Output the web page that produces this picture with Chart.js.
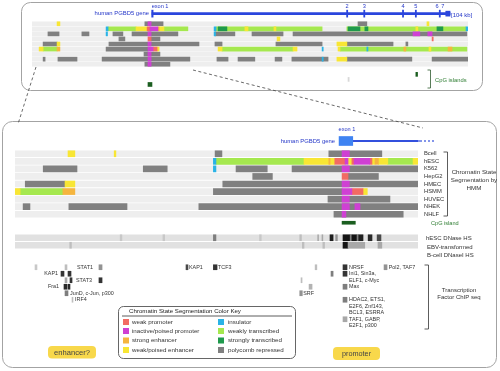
<!DOCTYPE html>
<html>
<head>
<meta charset="utf-8">
<title>PGBD5 chromatin state</title>
<script src="https://cdn.jsdelivr.net/npm/chart.js@4.4.1/dist/chart.umd.min.js"></script>
<style>
  html, body { margin: 0; padding: 0; background: #fff; }
  #wrap { position: relative; width: 500px; height: 371px; overflow: hidden; }
  #wrap canvas { position: absolute; }
</style>
</head>
<body>
<div id="wrap">
  <canvas id="frame" width="500" height="371" style="left:0;top:0"></canvas>
  <canvas id="overview" width="436" height="86" style="left:32px;top:1px"></canvas>
  <canvas id="zoomGene" width="403" height="18" style="left:15px;top:132px"></canvas>
  <canvas id="zoomSeg" width="430" height="68" style="left:15px;top:150px"></canvas>
  <canvas id="zoomTracks" width="403" height="30" style="left:15px;top:219px"></canvas>
  <canvas id="zoomTF" width="403" height="65" style="left:15px;top:264px"></canvas>
</div>
<script>
const FONT = "'Liberation Sans', Arial, sans-serif";

// cell lines, same order in both panels (row index 0..8)
const cellLines = ['Bcell', 'hESC', 'K562', 'HepG2', 'HMEC', 'HSMM', 'HUVEC', 'NHEK', 'NHLF'];

// chromatin states: label, colour, draw order (lower = on top)
const stateKey = [
  ['weak promoter', '#f26b63', 2],
  ['inactive/poised promoter', '#cf40d3', 1],
  ['strong enhancer', '#f5b53e', 3],
  ['weak/poised enhancer', '#f8e634', 4],
  ['insulator', '#29b3e6', 3],
  ['weakly transcribed', '#a5e84f', 6],
  ['strongly transcribed', '#1f9a4c', 5],
  ['polycomb repressed', '#808080', 6]
];

// ---------- overview panel (kb, window 0-153) ----------
const ovTracks = ['top', 'exon labels', 'PGBD5', 'gap 1', ...cellLines, 'gap 2', 'CpG a', 'CpG b', 'CpG c'];
const ovRange = [0, 153];
const ovGene = [42.1, 146.7];
const ovExons = [[42.0, 42.5], [110.4, 110.8], [116.4, 116.8], [130.0, 130.4], [134.5, 134.9], [142.9, 143.3]];
const ovLastExon = [145.2, 146.7];
const ovExonLabels = [['exon 1', 42.0], ['2', 110.6], ['3', 116.6], ['4', 130.2], ['5', 134.7], ['6', 142.1], ['7', 144.2]];
const ovCpG = [['CpG c', 40.7, 42.1], ['CpG a', 134.7, 135.3]];
const ovCpGFaint = [['CpG b', 110.9, 111.3]];

// segments: [row, start kb, end kb]
const ovWeakProm = [[1, 40.4, 41.4], [3, 40.7, 41.8], [5, 42.5, 43.9], [3, 140.4, 140.8]];
const ovPoisedProm = [[0, 40.7, 41.8], [1, 41.4, 44.2], [2, 40.7, 41.8], [2, 133.7, 136.1], [2, 138.9, 140.4],
  [4, 40.7, 41.8], [5, 40.7, 42.5], [6, 40.7, 41.8], [7, 40.7, 41.8], [8, 40.7, 41.8]];
const ovStrongEnh = [[5, 8.8, 9.8], [5, 130.5, 131.2], [5, 146.0, 147.4], [1, 44.2, 44.6]];
const ovWeakEnh = [[0, 8.8, 9.8], [0, 138.6, 139.3], [1, 36.5, 40.4], [1, 44.6, 46.3], [1, 74.7, 75.8], [1, 84.9, 85.6],
  [1, 134.7, 135.4], [3, 86.0, 87.0], [4, 8.8, 9.8], [4, 107.0, 110.5], [5, 2.5, 3.9], [5, 43.9, 44.6],
  [5, 65.3, 66.7], [5, 91.6, 93.0], [5, 107.4, 108.1], [5, 139.3, 140.0], [7, 107.0, 110.5]];
const ovInsulator = [[1, 26.0, 26.7], [2, 26.0, 26.5], [1, 63.9, 64.6], [2, 63.9, 64.4], [1, 152.3, 153],
  [5, 117.5, 117.9], [5, 101.8, 102.2], [7, 101.8, 102.2]];
const ovWeakTx = [[1, 26.7, 36.5], [1, 46.3, 54.7], [1, 64.6, 101.8], [1, 110.5, 152.3], [5, 3.9, 8.8],
  [5, 66.7, 91.6], [5, 108.1, 152.6]];
const ovStrongTx = [[1, 65.3, 68.4], [1, 110.9, 115.1], [1, 116.8, 117.9], [1, 142.1, 144.2]];
const ovPolycomb = [[0, 39.6, 46.0], [0, 114.4, 117.5],
  [2, 5.6, 9.5], [2, 17.5, 20.0], [2, 28.4, 31.9], [2, 35.1, 51.2], [2, 64.2, 71.2], [2, 77.2, 88.1], [2, 91.6, 152.6],
  [3, 30.5, 32.6], [3, 41.8, 44.9],
  [4, 3.9, 8.8], [4, 27.0, 58.6], [4, 64.2, 66.7], [4, 85.6, 101.8], [4, 110.5, 126.7], [4, 131.2, 131.9],
  [5, 26.0, 40.7],
  [6, 39.3, 44.9],
  [7, 3.9, 4.6], [7, 9.1, 15.8], [7, 24.6, 55.4], [7, 64.9, 68.8], [7, 72.3, 78.2], [7, 85.3, 87.7],
  [7, 91.2, 103.9], [7, 110.5, 133.3], [7, 140.4, 153],
  [8, 39.6, 48.4]];

// ---------- zoomed panel (kb, window 2.8-49.93) ----------
const zmRange = [2.8, 49.93];
const zmExon = [40.7, 42.3];
const zmGeneLine = [42.3, 49.93];
const zmTracks = ['CpG island', 'gap', 'hESC DNase HS', 'EBV-transformed B-cell DNaseI HS'];
const zmCpG = [['CpG island', 41.05, 42.6]];

const zmWeakProm = [[1, 40.2, 41.4], [1, 42.2, 42.45], [1, 44.3, 44.55], [3, 41.05, 41.75], [5, 42.2, 43.5]];
const zmPoisedProm = [[0, 41.05, 41.9], [1, 41.4, 41.75], [1, 42.45, 44.3], [2, 41.05, 41.9], [4, 41.05, 41.9],
  [5, 41.05, 42.2], [6, 41.05, 41.9], [7, 41.05, 41.9], [7, 42.55, 43.15], [8, 41.05, 41.5]];
const zmStrongEnh = [[1, 39.5, 39.65], [1, 44.9, 45.3], [5, 8.4, 9.8]];
const zmWeakEnh = [[0, 9.0, 9.8], [0, 14.4, 14.6], [1, 36.6, 40.2], [1, 41.75, 42.2], [1, 44.55, 44.9], [1, 45.3, 46.4],
  [1, 49.35, 49.93], [4, 8.65, 9.8], [5, 2.8, 3.4], [5, 43.5, 44.0]];
const zmInsulator = [[1, 26.0, 26.3], [2, 26.0, 26.3]];
const zmWeakTx = [[1, 26.3, 36.6], [1, 46.4, 49.35], [5, 3.4, 8.4]];
const zmStrongTx = [];
const zmPolycomb = [[0, 26.2, 27.0], [0, 39.5, 45.7],
  [2, 6.1, 10.05], [2, 17.8, 20.6], [2, 28.65, 32.3], [2, 35.2, 49.93],
  [3, 30.6, 32.9], [3, 41.75, 45.3],
  [4, 4.0, 8.65], [4, 27.1, 49.93],
  [5, 26.0, 41.05],
  [6, 39.4, 46.65],
  [7, 3.75, 4.55], [7, 9.1, 15.9], [7, 24.3, 49.93],
  [8, 40.1, 48.2]];

// DNase HS signal: [start, end, strength 0-1]
const dnaseHesc = [[15.1, 15.3, 0.15], [20.1, 20.3, 0.15], [26.0, 26.3, 0.5], [31.4, 31.6, 0.15], [36.1, 36.3, 0.2],
  [38.2, 38.3, 0.3], [38.7, 38.8, 0.3], [39.64, 40.0, 0.95], [40.3, 40.5, 0.4], [41.16, 42.0, 1.0], [42.0, 42.2, 0.5],
  [42.2, 42.8, 1.0], [42.8, 43.0, 0.5], [43.0, 43.5, 0.95], [44.1, 44.55, 0.9], [45.15, 45.6, 0.75]];
const dnaseEbv = [[9.2, 9.4, 0.2], [36.4, 36.6, 0.2], [38.8, 39.0, 0.2], [41.16, 41.75, 1.0], [41.75, 43.7, 0.3],
  [45.25, 45.7, 0.3]];

// TF ChIP-seq peaks: [start, end, text line, strength]
const tfLines = ['L1', 'L2', 'L3', 'L4', 'L5', 'L6', 'L7', 'L8', 'L9', 'L10'];
const tfPeaks = [[5.14, 5.37, 0, 0.15], [8.65, 8.88, 0, 0.2], [12.62, 12.98, 0, 0.4],
  [8.18, 8.53, 1, 0.85], [9.0, 9.35, 1, 0.85],
  [8.65, 8.88, 2, 0.3], [9.23, 9.47, 2, 0.85], [12.62, 12.98, 2, 0.85],
  [8.53, 8.88, 3, 0.9], [9.0, 9.23, 3, 0.9],
  [8.65, 9.0, 4, 0.5], [9.47, 9.58, 5, 0.2],
  [22.8, 23.03, 0, 0.75], [26.0, 26.43, 0, 0.85],
  [37.9, 38.1, 0, 0.2], [39.76, 40.0, 1, 0.5], [36.25, 36.37, 2, 0.2], [37.19, 37.54, 3, 0.25], [36.1, 36.4, 4, 0.4],
  [41.16, 41.63, 0, 0.85], [41.16, 41.63, 1, 0.85], [41.16, 41.63, 3, 0.5], [41.16, 41.63, 5, 0.5],
  [41.16, 41.63, 8, 0.3], [45.96, 46.31, 0, 0.4]];
// TF names: [text, kb, line, align]
const tfLabels = [['STAT1', 10.05, 0, 'left'], ['KAP1', 7.83, 1, 'right'], ['STAT3', 9.93, 2, 'left'],
  ['Fra1', 7.95, 3, 'right'], ['JunD, c-Jun, p300', 9.23, 4, 'left'], ['IRF4', 9.82, 5, 'left'],
  ['KAP1', 23.15, 0, 'left'], ['TCF3', 26.55, 0, 'left'], ['SRF', 36.5, 4, 'left'],
  ['NRSF', 41.86, 0, 'left'], ['Ini1, Sin3a,', 41.86, 1, 'left'], ['ELF1, c-Myc', 41.86, 2, 'left'],
  ['Max', 41.86, 3, 'left'], ['HDAC2, ETS1,', 41.86, 5, 'left'], ['E2F6, Znf143,', 41.86, 6, 'left'],
  ['BCL3, ESRRA', 41.86, 7, 'left'], ['TAF1, GABP,', 41.86, 8, 'left'], ['E2F1, p300', 41.86, 9, 'left'],
  ['Pol2, TAF7', 46.5, 0, 'left']];

// ---------- helpers ----------
function segs(list) {
  return list.map(s => ({ y: typeof s[0] === 'number' ? cellLines[s[0]] : s[0], x: [s[1], s[2]] }));
}
function stateSets(lists, thick) {
  return lists.map((list, i) => ({
    data: segs(list),
    backgroundColor: stateKey[i][1],
    barThickness: thick,
    order: stateKey[i][2]
  }));
}
function rowBackgrounds(range, thick) {
  return {
    data: cellLines.map(name => ({ y: name, x: [range[0], range[1]] })),
    backgroundColor: '#eeeeee',
    barThickness: thick,
    order: 10
  };
}
function grayShade(s) {
  const g = Math.round(232 - 212 * s);
  return `rgb(${g},${g},${g})`;
}
function shadeColor(ctx) {
  return ctx.raw && ctx.raw.s !== undefined ? grayShade(ctx.raw.s) : '#999';
}
function baseOptions(range, yScale) {
  return {
    responsive: false,
    animation: false,
    indexAxis: 'y',
    layout: { padding: 0 },
    plugins: { legend: { display: false }, tooltip: { enabled: false } },
    datasets: { bar: { grouped: false, borderWidth: 0, borderSkipped: false } },
    scales: {
      x: { type: 'linear', min: range[0], max: range[1], display: false },
      y: Object.assign({ type: 'category', display: false }, yScale)
    }
  };
}
function text(c, str, x, y, size, color, align, squeeze) {
  c.save();
  c.font = size + 'px ' + FONT;
  c.fillStyle = color;
  c.textAlign = align || 'left';
  c.textBaseline = 'middle';
  c.translate(x, y);
  c.scale(squeeze || 1, 1);
  c.fillText(str, 0, 0);
  c.restore();
}
function rounded(c, x, y, w, h, r) {
  c.beginPath();
  c.moveTo(x + r, y);
  c.arcTo(x + w, y, x + w, y + h, r);
  c.arcTo(x + w, y + h, x, y + h, r);
  c.arcTo(x, y + h, x, y, r);
  c.arcTo(x, y, x + w, y, r);
  c.closePath();
}
function line(c, x1, y1, x2, y2) {
  c.beginPath(); c.moveTo(x1, y1); c.lineTo(x2, y2); c.stroke();
}
function bracket(c, x, y1, y2, tick) {
  c.beginPath();
  c.moveTo(x - tick, y1); c.lineTo(x, y1); c.lineTo(x, y2); c.lineTo(x - tick, y2);
  c.stroke();
}

// ---------- static frame: panels, key, annotations ----------
const blue = '#2436c8';
const green = '#2e7d32';
const framePlugin = {
  id: 'frame',
  afterDraw(chart) {
    const c = chart.ctx;
    c.save();
    c.strokeStyle = '#a3a3a3';
    c.lineWidth = 1;
    rounded(c, 21.5, 2.5, 461, 88, 9); c.stroke();
    rounded(c, 2.5, 121.5, 494, 246, 10); c.stroke();

    c.setLineDash([3, 2.5]);
    c.strokeStyle = '#444';
    c.lineWidth = 0.8;
    line(c, 36, 67, 18, 124);
    line(c, 193, 70, 423, 128);
    c.setLineDash([]);

    // overview annotations
    text(c, '[104 kb]', 451, 15, 6, blue);
    c.strokeStyle = '#2e5a2e'; c.lineWidth = 0.8;
    bracket(c, 430.5, 70, 88, 3);
    text(c, 'CpG islands', 435, 80, 5.8, green);

    // zoom gene
    text(c, 'exon 1', 347, 129, 5.6, blue, 'center');
    text(c, 'human PGBD5 gene', 335, 141, 5.9, blue, 'right');
    c.strokeStyle = '#3350dd'; c.lineWidth = 1.2;
    line(c, 418, 141, 422, 141);
    c.setLineDash([2, 2]);
    line(c, 424, 141, 434, 141);
    c.setLineDash([]);

    // right-hand labels
    c.strokeStyle = '#333'; c.lineWidth = 0.8;
    bracket(c, 447.5, 152, 216, 4);
    text(c, 'Chromatin State', 474, 172, 6.2, '#333', 'center');
    text(c, 'Segmentation by', 474, 180, 6.2, '#333', 'center');
    text(c, 'HMM', 474, 188, 6.2, '#333', 'center');
    text(c, 'CpG island', 431, 223, 5.6, green);
    text(c, 'hESC DNase HS', 426, 238, 6, '#333');
    text(c, 'EBV-transformed', 427, 247, 6, '#333');
    text(c, 'B-cell DNaseI HS', 427, 255, 6, '#333');
    bracket(c, 428.5, 265, 329, 4);
    text(c, 'Transcription', 459, 290, 6, '#333', 'center');
    text(c, 'Factor ChIP seq', 459, 297, 6, '#333', 'center');

    // colour key
    c.fillStyle = '#fff';
    c.strokeStyle = '#555'; c.lineWidth = 0.9;
    rounded(c, 118.5, 306.5, 177, 52, 5); c.fill(); c.stroke();
    text(c, 'Chromatin State Segmentation Color Key', 185, 311, 6.1, '#222', 'center');
    c.strokeStyle = '#333'; c.lineWidth = 0.8;
    line(c, 122, 316, 292, 316);
    const keyRows = [322, 331, 340.5, 350];
    stateKey.forEach(([name, color], i) => {
      const col = i < 4 ? 0 : 1;
      const x = col ? 218 : 123;
      const y = keyRows[i % 4];
      c.fillStyle = color;
      c.fillRect(x, y - 3, 6, 6);
      text(c, name, x + (col ? 10 : 9), y, 6.2, '#333');
    });

    // region tags
    c.fillStyle = '#f8d84b';
    rounded(c, 48, 346, 48, 12.5, 4); c.fill();
    rounded(c, 333, 347, 47, 13, 4); c.fill();
    text(c, 'enhancer?', 72, 352.5, 7.6, '#444', 'center');
    text(c, 'promoter', 356.5, 353.5, 7.3, '#444', 'center');
    c.restore();
  }
};

new Chart(document.getElementById('frame'), {
  type: 'bar',
  data: { labels: [], datasets: [] },
  options: {
    responsive: false, animation: false,
    plugins: { legend: { display: false }, tooltip: { enabled: false } },
    scales: { x: { display: false }, y: { display: false } }
  },
  plugins: [framePlugin]
});

// ---------- overview tracks ----------
const overviewLabels = {
  id: 'overviewLabels',
  afterDatasetsDraw(chart) {
    const { ctx, scales: { x, y } } = chart;
    const gy = y.getPixelForValue(ovTracks.indexOf('PGBD5'));
    ovExonLabels.forEach(([t, kb], i) => {
      text(ctx, t, x.getPixelForValue(kb), gy - 7, 5.6, blue, i === 0 ? 'left' : 'center');
    });
    text(ctx, 'human PGBD5 gene', x.getPixelForValue(ovGene[0]) - 3, gy, 5.9, blue, 'right');
  }
};

new Chart(document.getElementById('overview'), {
  type: 'bar',
  data: {
    labels: ovTracks,
    datasets: [
      rowBackgrounds(ovRange, 4),
      ...stateSets([ovWeakProm, ovPoisedProm, ovStrongEnh, ovWeakEnh, ovInsulator, ovWeakTx, ovStrongTx, ovPolycomb], 4),
      { data: [{ y: 'PGBD5', x: ovGene }], backgroundColor: '#2a45dd', barThickness: 2, order: 1 },
      { data: ovExons.map(e => ({ y: 'PGBD5', x: e })), backgroundColor: '#2a45dd', barThickness: 7, order: 1 },
      { data: [{ y: 'PGBD5', x: ovLastExon }], backgroundColor: '#2a45dd', barThickness: 5, order: 1 },
      { data: segs(ovCpG), backgroundColor: '#1b5e20', barThickness: 4, order: 1 },
      { data: segs(ovCpGFaint), backgroundColor: '#d8d8d8', barThickness: 4, order: 1 }
    ]
  },
  options: baseOptions(ovRange, {}),
  plugins: [overviewLabels]
});

// ---------- zoomed gene model ----------
new Chart(document.getElementById('zoomGene'), {
  type: 'bar',
  data: {
    labels: ['PGBD5'],
    datasets: [
      { data: [{ y: 'PGBD5', x: zmExon }], backgroundColor: '#3f83f2', barThickness: 9, order: 1 },
      { data: [{ y: 'PGBD5', x: zmGeneLine }], backgroundColor: '#3350dd', barThickness: 1.3, order: 2 }
    ]
  },
  options: baseOptions(zmRange, {})
});

// ---------- zoomed chromatin states ----------
new Chart(document.getElementById('zoomSeg'), {
  type: 'bar',
  data: {
    labels: cellLines,
    datasets: [
      rowBackgrounds(zmRange, 6),
      ...stateSets([zmWeakProm, zmPoisedProm, zmStrongEnh, zmWeakEnh, zmInsulator, zmWeakTx, zmStrongTx, zmPolycomb], 6)
    ]
  },
  options: baseOptions(zmRange, {
    display: true,
    position: 'right',
    grid: { display: false, drawTicks: false },
    border: { display: false },
    ticks: { autoSkip: false, padding: 6, color: '#333', font: { family: FONT, size: 5.8 } },
    afterFit(axis) {
      axis.width = 27;
      axis.paddingTop = 0;
      axis.paddingBottom = 0;
    }
  })
});

// ---------- CpG island + DNase tracks ----------
new Chart(document.getElementById('zoomTracks'), {
  type: 'bar',
  data: {
    labels: zmTracks,
    datasets: [
      { data: segs(zmCpG), backgroundColor: '#1b5e20', barThickness: 3, order: 1 },
      { data: zmTracks.slice(2).map(t => ({ y: t, x: zmRange })), backgroundColor: '#e1e1e1', barThickness: 6, order: 10 },
      { data: dnaseHesc.map(d => ({ y: zmTracks[2], x: [d[0], d[1]], s: d[2] })), backgroundColor: shadeColor, barThickness: 6, order: 2 },
      { data: dnaseEbv.map(d => ({ y: zmTracks[3], x: [d[0], d[1]], s: d[2] })), backgroundColor: shadeColor, barThickness: 6, order: 2 }
    ]
  },
  options: baseOptions(zmRange, {})
});

// ---------- TF ChIP-seq peaks ----------
const tfLabelPlugin = {
  id: 'tfLabels',
  afterDatasetsDraw(chart) {
    const { ctx, scales: { x, y } } = chart;
    tfLabels.forEach(([t, kb, ln, align]) => {
      text(ctx, t, x.getPixelForValue(kb), y.getPixelForValue(ln), 5.4, '#333', align);
    });
  }
};

new Chart(document.getElementById('zoomTF'), {
  type: 'bar',
  data: {
    labels: tfLines,
    datasets: [
      { data: tfPeaks.map(p => ({ y: tfLines[p[2]], x: [p[0], p[1]], s: p[3] })), backgroundColor: shadeColor, barThickness: 5 }
    ]
  },
  options: baseOptions(zmRange, {}),
  plugins: [tfLabelPlugin]
});
</script>
</body>
</html>
